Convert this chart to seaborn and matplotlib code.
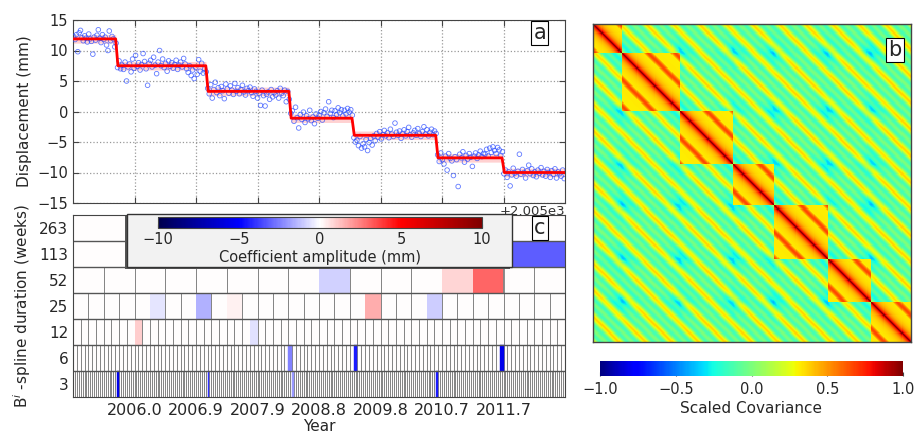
import numpy as np
import pandas as pd
import matplotlib
matplotlib.use("Agg")
import matplotlib.pyplot as plt
import seaborn as sns
from matplotlib.colors import Normalize
from matplotlib.patches import Rectangle
from matplotlib.cm import ScalarMappable

sns.set_style("ticks", {"xtick.direction": "in", "ytick.direction": "in",
                        "axes.edgecolor": "#444444"})
plt.rcParams['font.family'] = ['DejaVu Sans']
plt.rcParams['axes.unicode_minus'] = True

# ---------------- data ----------------
T_START, T_END = 2005.0, 2012.64
step_times = [2005.68, 2007.08, 2008.37, 2009.35, 2010.65, 2011.68]
step_levels = [11.9, 7.5, 3.3, -1.1, -3.9, -7.6, -10.0]
band_halfwidth = 0.7

seg1 = [12.3, 11.8, 12.6, 9.8, 12.9, 13.3, 12.1, 11.6, 12.4, 12.0, 11.4, 12.7, 11.9, 11.5, 9.4, 12.2,
        11.7, 12.5, 13.4, 12.0, 11.3, 12.6, 11.8, 12.2, 10.9, 10.0, 13.2, 11.6, 12.3, 11.9, 10.6, 11.2]
seg2 = [7.2, 8.3, 7.0, 7.6, 6.9, 8.1, 5.0, 7.3, 7.8, 6.5, 8.6, 7.1, 9.2, 7.4, 8.0, 6.8, 7.7, 9.5, 8.2,
        7.0, 4.3, 7.9, 8.4, 7.3, 8.9, 7.6, 6.2, 8.1, 10.0, 7.5, 8.6, 7.2, 7.9, 6.6, 8.3, 7.4, 8.0, 7.1,
        7.7, 8.4, 6.9, 7.6, 8.1, 7.3, 8.7, 7.8, 7.0, 6.4, 7.5, 5.9, 6.8, 5.4, 7.2, 6.1, 8.5, 6.6, 7.9,
        6.3, 7.0, 6.5]
seg3 = [3.8, 2.9, 4.4, 2.2, 3.6, 4.8, 3.1, 3.9, 2.6, 4.1, 3.4, 2.1, 4.5, 3.7, 3.0, 4.2, 3.5, 2.8, 4.6,
        3.3, 3.9, 2.9, 3.6, 4.3, 3.2, 2.7, 3.8, 3.4, 4.0, 3.1, 2.5, 3.7, 3.3, 2.2, 3.0, 1.0, 3.5, 2.6,
        0.9, 2.8, 3.2, 2.0, 3.6, 2.4, 3.1, 2.7, 3.4, 2.2, 3.8, 3.0, 2.6, 3.5, 1.6, 3.3, 2.0]
seg4 = [-0.3, 0.1, -1.6, 0.7, -1.0, -2.7, -0.5, -1.3, -0.1, -1.8, -0.7, -1.2, 0.2, -1.5, -0.9, -2.0,
        -0.4, -1.1, -0.6, 0.0, -1.4, -0.2, 0.4, -0.8, 1.6, -0.3, 0.2, -1.0, 0.1, -0.5, 0.6, -0.2, 0.3,
        -0.7, 0.2, -0.4, 0.5, -0.1, 0.3, -0.6]
seg5 = [-4.3, -5.0, -4.7, -5.6, -4.1, -6.0, -5.3, -5.8, -4.6, -6.4, -5.1, -4.4, -5.5, -4.0, -4.8, -3.6,
        -4.2, -3.3, -4.5, -3.8, -3.1, -4.0, -3.5, -4.3, -2.9, -3.7, -4.1, -1.9, -3.4, -3.9, -3.2, -4.4,
        -3.6, -3.0, -4.0, -3.3, -2.6, -3.8, -4.2, -3.5, -3.1, -3.9, -2.8, -3.6, -4.1, -3.3, -2.5, -3.7,
        -3.0, -4.0, -3.4, -2.9, -3.8, -3.2, -3.6]
seg6 = [-7.1, -8.2, -6.8, -7.9, -8.6, -7.3, -9.6, -6.9, -7.7, -8.1, -10.5, -7.4, -7.9, -12.3, -7.0,
        -7.6, -6.6, -8.3, -7.2, -7.8, -6.9, -7.5, -9.0, -7.3, -6.8, -7.7, -7.1, -6.5, -7.4, -6.9, -7.0,
        -6.2, -7.3, -6.0, -6.7, -5.8, -6.4, -6.9, -5.9, -6.3, -7.2, -6.6]
seg7 = [-10.2, -9.6, -10.8, -9.9, -12.2, -10.4, -9.3, -10.1, -10.6, -9.8, -7.0, -10.3, -9.5, -10.0,
        -10.9, -9.7, -8.8, -10.2, -9.4, -10.5, -9.9, -10.7, -9.6, -10.1, -9.2, -10.4, -9.8, -10.6, -9.5,
        -10.0, -10.8, -9.7, -10.3, -9.4, -10.9, -9.9, -10.2, -10.6, -9.6, -11.0]
segments = [seg1, seg2, seg3, seg4, seg5, seg6, seg7]

x_tick_values = [2005.955, 2006.910, 2007.865, 2008.820, 2009.775, 2010.730, 2011.685]
x_tick_labels = ["2006.0", "2006.9", "2007.9", "2008.8", "2009.8", "2010.7", "2011.7"]
y_ticks_a = [-15, -10, -5, 0, 5, 10, 15]

# B-spline rows (bottom to top)
durations = ["3", "6", "12", "25", "52", "113", "263"]
cell_counts = [256, 128, 64, 32, 16, 8, 4]
coef_row3 = {23: -5.5, 70: -4.0, 114: -2.0, 189: -4.5}
coef_row6 = {56: -2.5, 73: -4.5, 111: -5.5}
coef_row12 = {8: 1.0, 23: -0.6}
coef_row25 = {5: -0.5, 8: -1.5, 10: 0.3, 19: 1.6, 23: -1.0}
coef_row52 = {8: -0.9, 12: 0.8, 13: 3.0}
coef_row113 = {7: -3.2}
coef_row263 = {}
coef_rows = [coef_row3, coef_row6, coef_row12, coef_row25, coef_row52, coef_row113, coef_row263]
coef_ticks = [-10, -5, 0, 5, 10]

# covariance model parameters (panel b)
cov_n = 300
stripe_period = 0.64
cov_background = -0.25
cov_stripe_amp = 0.62
cov_stripe2_amp = 0.26
cov_diag_floor = 0.32
cov_diag_scale = 0.12
cov_block_lift = 0.3
cov_seam_amp = 0.28
cov_seam_scale = 0.25
cov_ticks = [-1.0, -0.5, 0.0, 0.5, 1.0]

# ---------------- figure ----------------
fig = plt.figure(figsize=(9.16, 4.37), dpi=100)
W, H = 916, 437
def fr(x0, y0, x1, y1):
    return [x0 / W, 1 - y1 / H, (x1 - x0) / W, (y1 - y0) / H]

ax_a = fig.add_axes(fr(73, 20, 565, 203))
ax_c = fig.add_axes(fr(73, 215, 565, 397))
ax_b = fig.add_axes(fr(593, 24, 911, 342))
cax_b = fig.add_axes(fr(600, 361, 903, 376))
cax_c = fig.add_axes(fr(158, 217, 482, 228))

# ---- panel a ----
edges = [T_START] + step_times + [T_END]
rows = []
for k, vals in enumerate(segments):
    n = len(vals)
    lo, hi = edges[k], edges[k + 1]
    dt = (hi - lo) / n
    for i, v in enumerate(vals):
        rows.append((lo + dt * (i + 0.5), v))
df_pts = pd.DataFrame(rows, columns=["t", "disp"])

ramp = 0.035
lt, lv = [T_START], [step_levels[0]]
for k, b in enumerate(step_times):
    lt += [b - ramp / 2, b + ramp / 2]
    lv += [step_levels[k], step_levels[k + 1]]
lt.append(T_END)
lv.append(step_levels[-1])
lt, lv = np.array(lt), np.array(lv)

ax_a.fill_between(lt, lv - band_halfwidth, lv + band_halfwidth, color="#ff3030", alpha=0.22, lw=0, zorder=2)
sns.scatterplot(data=df_pts, x="t", y="disp", ax=ax_a, marker="o", s=11,
                facecolor="none", edgecolor="#2a4cff", linewidth=0.6, alpha=0.75, zorder=3)
sns.lineplot(x=lt, y=lv, ax=ax_a, color="red", lw=2.0, estimator=None, sort=False, zorder=4)
ax_a.set_xlim(T_START, T_END)
ax_a.set_ylim(-15, 15)
ax_a.set_yticks(y_ticks_a)
ax_a.set_xticks(x_tick_values)
ax_a.tick_params(labelbottom=False, top=True, right=True, length=4, color="#444444",
                 labelsize=10.5)
ax_a.grid(True, ls=":", color="#999999", lw=0.9)
ax_a.set_xlabel("")
ax_a.set_ylabel("Displacement (mm)", fontsize=11)
ax_a.text(1.0, -0.012, "+2.005e3", transform=ax_a.transAxes, ha="right", va="top",
          fontsize=9.5, color="#333333")
ax_a.text(0.949, 0.929, "a", transform=ax_a.transAxes, ha="center", va="center", fontsize=15,
          bbox=dict(boxstyle="square,pad=0.1", fc="white", ec="black", lw=0.8), zorder=6)

# ---- panel c ----
norm_c = Normalize(-10, 10)
cmap_c = plt.get_cmap("seismic")
span = T_END - T_START
for r, (n, coefs) in enumerate(zip(cell_counts, coef_rows)):
    w = span / n
    lefts = T_START + w * np.arange(n)
    vals = np.array([coefs.get(i, 0.0) for i in range(n)])
    cols = cmap_c(norm_c(vals))
    ax_c.bar(lefts, 1.0, width=w, bottom=r, align="edge", color=cols,
             edgecolor="#7a7a7a", linewidth=0.6, zorder=2)
    nz = vals != 0
    if nz.any():
        ax_c.bar(lefts[nz], 1.0, width=w, bottom=r, align="edge", color=cols[nz],
                 edgecolor=cols[nz], linewidth=0.3 if n > 100 else 0.0, zorder=2.5)
for r in range(1, len(cell_counts)):
    ax_c.axhline(r, color="#555555", lw=1.0, zorder=3)
ax_c.set_xlim(T_START, T_END)
ax_c.set_ylim(0, len(cell_counts))
ax_c.set_yticks(np.arange(len(durations)) + 0.5)
ax_c.set_yticklabels(durations)
ax_c.set_xticks(x_tick_values)
ax_c.set_xticklabels(x_tick_labels)
ax_c.tick_params(axis="y", right=True, length=4, color="#444444", labelsize=11)
ax_c.tick_params(axis="x", length=4, color="#444444", labelsize=11.5, pad=4)
ax_c.set_xlabel("Year", fontsize=11, labelpad=1)
ax_c.set_ylabel(r"B$^i$ -spline duration (weeks)", fontsize=11)
for sp in ax_c.spines.values():
    sp.set_zorder(5)
ax_c.text(0.949, 0.929, "c", transform=ax_c.transAxes, ha="center", va="center", fontsize=15,
          bbox=dict(boxstyle="square,pad=0.1", fc="white", ec="black", lw=0.8), zorder=6)

# legend box behind colorbar of panel c
bx = fr(127, 214, 512, 267)
shadow = Rectangle((bx[0] - 2 / W, bx[1] - 2 / H), bx[2], bx[3], transform=fig.transFigure,
                   fc="#555555", ec="none", zorder=1.9)
box = Rectangle((bx[0], bx[1]), bx[2], bx[3], transform=fig.transFigure,
                fc="#f2f2f2", ec="#333333", lw=1.0, zorder=2)
fig.patches.extend([shadow, box])
cax_c.set_zorder(3)
sm = ScalarMappable(norm=norm_c, cmap=cmap_c)
cb_c = fig.colorbar(sm, cax=cax_c, orientation="horizontal", ticks=coef_ticks)
cb_c.ax.tick_params(labelsize=10.5, direction="in", length=3, color="#444444", pad=3)
cb_c.set_label("Coefficient amplitude (mm)", fontsize=10.5, labelpad=2)
cb_c.outline.set_edgecolor("#444444")

# ---- panel b ----
tt = np.linspace(T_START, T_END, cov_n)
d = tt[None, :] - tt[:, None]
seg_id = np.searchsorted(step_times, tt)
same = seg_id[:, None] == seg_id[None, :]
stripe = ((1 + np.cos(2 * np.pi * d / stripe_period)) / 2) ** 2
stripe2 = ((1 + np.cos(2 * np.pi * (d - stripe_period / 2) / stripe_period)) / 2) ** 4
bg = cov_background + cov_stripe_amp * stripe + cov_stripe2_amp * stripe2
bnd = np.array(step_times)
dist = np.min(np.abs(tt[:, None] - bnd[None, :]), axis=1)
seam = cov_seam_amp * np.exp(-dist[:, None] / cov_seam_scale) * np.exp(-dist[None, :] / cov_seam_scale)
within = np.maximum(bg + cov_block_lift,
                    cov_diag_floor + (1 - cov_diag_floor) * np.exp(-np.abs(d) / cov_diag_scale))
cov = np.where(same, within, bg - seam)
cov = np.clip(cov, -1, 1)

sns.heatmap(cov, ax=ax_b, cmap="jet", vmin=-1, vmax=1, cbar_ax=cax_b,
            cbar_kws={"orientation": "horizontal", "ticks": cov_ticks},
            xticklabels=False, yticklabels=False, rasterized=True)
for sp in ax_b.spines.values():
    sp.set_visible(True)
    sp.set_edgecolor("#444444")
    sp.set_linewidth(1.0)
ax_b.tick_params(left=False, bottom=False)
ax_b.text(0.95, 0.918, "b", transform=ax_b.transAxes, ha="center", va="center", fontsize=15,
          bbox=dict(boxstyle="square,pad=0.1", fc="white", ec="black", lw=0.8), zorder=6)
cb_b = ax_b.collections[0].colorbar
cb_b.set_ticks(cov_ticks)
cb_b.set_ticklabels([f"{v:.1f}".replace("-", "\u2212") for v in cov_ticks])
cb_b.ax.tick_params(labelsize=10.5, direction="in", length=3, color="#444444", pad=4)
cb_b.set_label("Scaled Covariance", fontsize=11, labelpad=3)
cb_b.outline.set_visible(True)
cb_b.outline.set_edgecolor("#444444")

fig.savefig("out.png", dpi=100)
